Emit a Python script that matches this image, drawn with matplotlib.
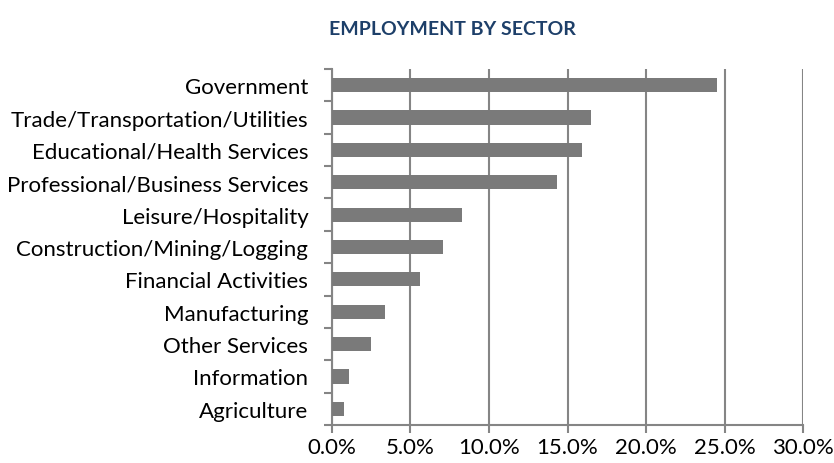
import matplotlib
matplotlib.use("Agg")
import matplotlib.pyplot as plt
import numpy as np

sectors = ['Government', 'Trade/Transportation/Utilities', 'Educational/Health Services',
           'Professional/Business Services', 'Leisure/Hospitality', 'Construction/Mining/Logging',
           'Financial Activities', 'Manufacturing', 'Other Services', 'Information', 'Agriculture']
share = [24.5, 16.5, 15.9, 14.3, 8.3, 7.1, 5.6, 3.4, 2.5, 1.1, 0.8]
xticks = [0, 5, 10, 15, 20, 25, 30]

plt.rcParams['font.family'] = ['Lato', 'DejaVu Sans']

fig = plt.figure(figsize=(8.34, 4.64), dpi=100)
ax = fig.add_axes([0.398, 0.082, 0.565, 0.767])

gray = '#858585'
ypos = np.arange(len(sectors))
ax.barh(ypos, share, height=0.44, color='#7a7a7a', zorder=3)
ax.set_ylim(len(sectors) - 0.5, -0.5)
ax.set_xlim(0, 30)

# gridlines and axes in the same gray
ax.set_xticks(xticks)
ax.set_xticklabels([f'{v:.1f}%' for v in xticks], fontsize=16)
ax.xaxis.grid(True, color=gray, linewidth=1.5, zorder=0)
ax.set_yticks(ypos)
ax.set_yticklabels(sectors, fontsize=16)
ax.set_yticks(np.arange(len(sectors) + 1) - 0.5, minor=True)
ax.tick_params(axis='y', which='major', length=0, pad=17)
ax.tick_params(axis='y', which='minor', length=6, color=gray, width=1.5)
ax.tick_params(axis='x', length=6, color=gray, width=1.5, pad=3)
for side in ['top', 'right']:
    ax.spines[side].set_visible(False)
for side in ['left', 'bottom']:
    ax.spines[side].set_color(gray)
    ax.spines[side].set_linewidth(1.5)

fig.text(0.542, 0.937, 'EMPLOYMENT BY SECTOR', ha='center', va='center',
         fontsize=14, fontweight='bold', color='#1d3f69')

fig.savefig('out.png', dpi=100)
